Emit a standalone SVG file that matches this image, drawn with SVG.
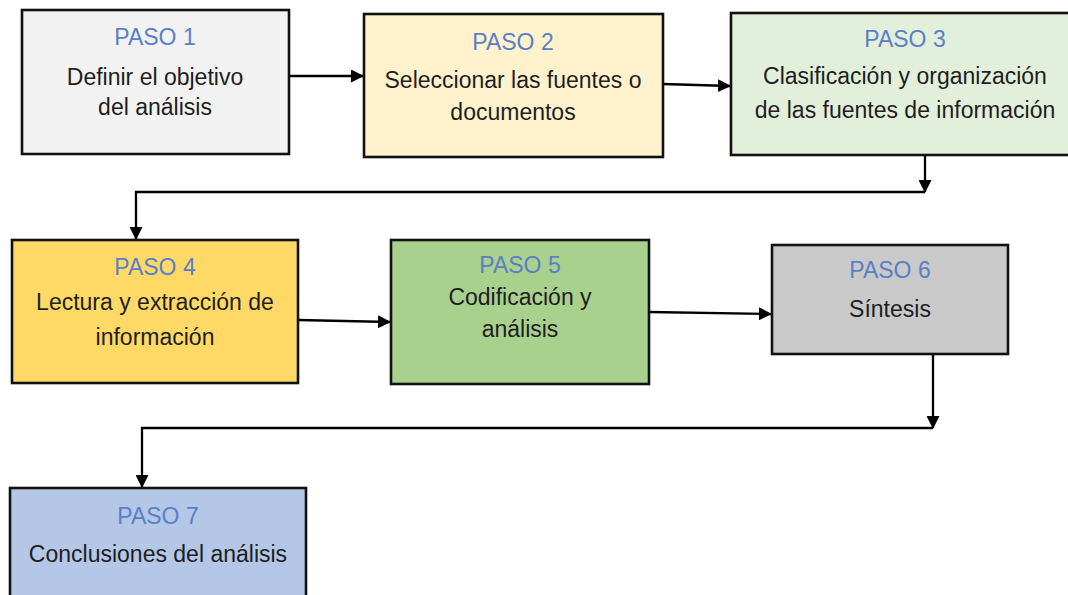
<svg xmlns="http://www.w3.org/2000/svg" width="1068" height="595" viewBox="0 0 1068 595">
<defs>
<marker id="ah" markerUnits="userSpaceOnUse" markerWidth="13" markerHeight="13" refX="12" refY="6.5" orient="auto">
<path d="M0,0 L13,6.5 L0,13 z" fill="#000"/>
</marker>
<style>
.box{stroke:#111;stroke-width:2.6}
.t{font-family:"Liberation Sans",Arial,sans-serif;font-size:23px;text-anchor:middle;fill:#1e1e1e}
.p{fill:#5b7fc6}
.c{fill:none;stroke:#000;stroke-width:2.3}
</style>
</defs>
<rect width="1068" height="595" fill="#fff"/>
<g id="connectors">
<path class="c" d="M289,76 H363" marker-end="url(#ah)"/>
<path class="c" d="M663,84 L730,86" marker-end="url(#ah)"/>
<path class="c" d="M925,155 V192" marker-end="url(#ah)"/>
<path class="c" d="M925,192 H136 V239" marker-end="url(#ah)"/>
<path class="c" d="M298,320 L390,322" marker-end="url(#ah)"/>
<path class="c" d="M649,312 L771,314" marker-end="url(#ah)"/>
<path class="c" d="M933,354 V428" marker-end="url(#ah)"/>
<path class="c" d="M933,428 H142 V487" marker-end="url(#ah)"/>
</g>
<g id="paso1">
<rect class="box" x="22" y="10" width="267" height="144" fill="#f2f2f2"/>
<text class="t p" x="155" y="45">PASO 1</text>
<text class="t" x="155" y="85">Definir el objetivo</text>
<text class="t" x="155" y="115">del análisis</text>
</g>
<g id="paso2">
<rect class="box" x="364" y="14" width="299" height="143" fill="#fff2cc"/>
<text class="t p" x="513" y="50">PASO 2</text>
<text class="t" x="513" y="88">Seleccionar las fuentes o</text>
<text class="t" x="513" y="120">documentos</text>
</g>
<g id="paso3">
<rect class="box" x="731" y="13" width="345" height="142" fill="#e2efda"/>
<text class="t p" x="905" y="47">PASO 3</text>
<text class="t" x="905" y="84">Clasificación y organización</text>
<text class="t" x="905" y="118">de las fuentes de información</text>
</g>
<g id="paso4">
<rect class="box" x="12" y="240" width="286" height="143" fill="#ffd966"/>
<text class="t p" x="155" y="275">PASO 4</text>
<text class="t" x="155" y="310">Lectura y extracción de</text>
<text class="t" x="155" y="345">información</text>
</g>
<g id="paso5">
<rect class="box" x="391" y="240" width="258" height="144" fill="#a9d18e"/>
<text class="t p" x="520" y="273">PASO 5</text>
<text class="t" x="520" y="305">Codificación y</text>
<text class="t" x="520" y="337">análisis</text>
</g>
<g id="paso6">
<rect class="box" x="772" y="245" width="236" height="109" fill="#c9c9c9"/>
<text class="t p" x="890" y="278">PASO 6</text>
<text class="t" x="890" y="317">Síntesis</text>
</g>
<g id="paso7">
<rect class="box" x="10" y="488" width="296" height="120" fill="#b4c7e7"/>
<text class="t p" x="158" y="524">PASO 7</text>
<text class="t" x="158" y="562">Conclusiones del análisis</text>
</g>
</svg>
